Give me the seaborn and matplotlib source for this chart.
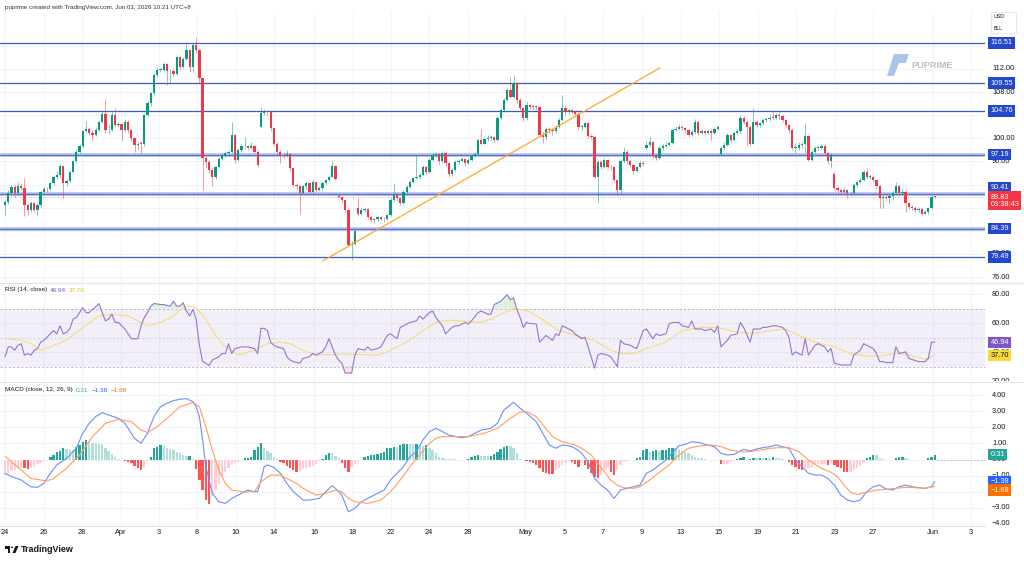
import numpy as np
import pandas as pd
import matplotlib
matplotlib.use("Agg")
import matplotlib.pyplot as plt
import seaborn as sns
from matplotlib.patches import Rectangle, Polygon, Circle
from matplotlib.lines import Line2D

# ---- candles (4h bars, index = bar number) ----
closes = [
    89.0, 90.5, 91.6, 90.5, 91.8, 91.4, 88.5, 87.6, 88.8, 87.6, 88.5, 90.8, 91.3, 91.2, 92.2, 93.3, 93.6, 95.2, 92.2, 92.6,
    94.2, 96.0, 97.7, 98.6, 101.2, 101.7, 101.0, 100.6, 101.5, 102.8, 104.3, 101.4, 101.5, 104.0, 102.3, 102.4, 101.5, 102.8, 101.4, 100.0,
    98.9, 99.1, 99.0, 104.0, 106.1, 107.8, 111.0, 111.8, 111.9, 112.9, 111.6, 111.7, 111.2, 114.1, 112.4, 113.8, 115.3, 112.4, 116.1, 115.3,
    110.4, 96.6, 95.9, 94.5, 93.4, 95.1, 96.5, 97.1, 97.4, 97.7, 100.6, 96.3, 98.0, 98.6, 98.6, 98.3, 98.6, 97.7, 95.4, 104.4,
    104.6, 104.5, 101.8, 99.1, 97.7, 97.1, 97.0, 97.3, 94.8, 92.0, 91.7, 90.5, 91.7, 92.2, 90.8, 92.5, 91.0, 91.4, 92.2, 92.8,
    93.4, 95.2, 93.0, 89.9, 89.3, 87.6, 81.5, 81.8, 84.0, 86.9, 87.6, 87.7, 86.4, 85.8, 86.0, 86.4, 86.1, 86.0, 86.7, 89.3,
    90.2, 89.6, 88.8, 90.8, 91.6, 92.5, 93.1, 93.3, 93.7, 95.1, 94.2, 96.2, 97.1, 97.3, 96.0, 97.4, 95.7, 93.8, 94.5, 95.9,
    96.1, 96.4, 95.7, 96.3, 97.0, 97.3, 99.7, 99.1, 99.9, 100.1, 100.2, 99.7, 103.5, 104.9, 106.6, 108.4, 107.2, 109.5, 106.6, 105.2,
    103.5, 105.8, 105.5, 105.4, 105.4, 100.6, 100.3, 101.6, 101.5, 101.2, 102.0, 103.2, 105.2, 104.6, 104.9, 104.6, 104.3, 102.0, 102.0, 102.6,
    100.4, 100.3, 93.4, 95.9, 95.1, 96.3, 95.1, 95.0, 92.8, 91.1, 96.0, 97.7, 96.0, 95.4, 94.3, 95.0, 95.7, 95.6, 98.8, 99.4,
    97.0, 96.6, 98.3, 98.6, 98.9, 99.2, 101.4, 101.7, 101.9, 101.8, 101.4, 100.6, 101.1, 102.9, 100.9, 101.2, 101.0, 101.3, 100.9, 101.7,
    101.9, 98.3, 98.9, 100.6, 99.8, 100.9, 101.2, 103.5, 102.9, 102.0, 99.1, 102.9, 102.3, 102.6, 103.2, 103.3, 103.6, 103.5, 104.0, 103.8,
    103.2, 102.3, 101.4, 98.3, 98.3, 98.9, 99.0, 100.4, 96.3, 97.7, 98.3, 98.3, 98.6, 97.4, 96.0, 97.1, 91.4, 91.1, 90.8, 91.1,
    90.5, 90.5, 91.9, 92.5, 92.8, 94.2, 93.4, 93.4, 92.8, 91.7, 89.6, 89.9, 89.6, 90.0, 90.5, 91.7, 90.5, 90.8, 88.8, 88.2,
    88.0, 87.6, 87.8, 87.0, 87.3, 87.9, 89.9, 89.83,
]
highs = [
    89.4, 91.0, 92.0, 92.0, 92.4, 92.2, 93.2, 88.8, 89.2, 89.0, 88.8, 91.0, 91.6, 91.6, 92.5, 93.6, 94.4, 95.5, 95.3, 93.0,
    94.6, 96.3, 98.0, 99.0, 101.5, 103.0, 102.0, 101.4, 101.9, 103.1, 104.9, 106.8, 102.3, 104.5, 105.2, 102.8, 102.6, 103.3, 103.1, 101.6,
    100.2, 99.5, 99.6, 104.3, 106.5, 108.0, 111.3, 112.3, 112.2, 113.2, 113.1, 112.0, 112.0, 114.4, 114.3, 114.1, 116.4, 115.4, 116.5, 117.6,
    115.5, 110.5, 97.0, 96.2, 94.8, 95.3, 96.8, 97.5, 97.8, 98.0, 102.8, 100.8, 98.4, 99.0, 100.3, 98.9, 99.3, 98.8, 97.9, 105.5,
    105.0, 104.9, 104.6, 102.0, 99.3, 98.0, 97.5, 97.9, 97.4, 95.0, 92.3, 92.0, 92.0, 92.7, 92.3, 92.9, 92.7, 91.7, 92.4, 93.0,
    93.7, 96.0, 95.4, 90.3, 90.1, 89.4, 87.8, 82.2, 84.3, 89.6, 87.9, 88.2, 87.9, 86.6, 86.3, 86.6, 86.6, 86.4, 86.9, 89.6,
    92.2, 90.5, 89.9, 91.0, 91.9, 92.8, 93.4, 97.1, 94.0, 95.4, 95.4, 96.6, 97.7, 97.7, 97.5, 97.8, 97.8, 95.9, 94.9, 96.3,
    96.4, 96.8, 96.6, 96.6, 97.3, 97.6, 100.1, 101.7, 100.3, 100.6, 100.6, 100.4, 103.8, 105.2, 106.9, 108.7, 110.7, 111.0, 109.8, 106.9,
    105.5, 106.3, 106.0, 105.8, 105.8, 105.6, 101.1, 102.0, 102.0, 101.8, 102.3, 103.5, 107.5, 105.6, 105.3, 105.2, 104.8, 104.5, 102.5, 102.9,
    102.8, 100.8, 100.4, 96.3, 96.2, 96.6, 96.5, 95.4, 95.2, 93.0, 96.4, 98.5, 97.9, 96.3, 95.6, 95.3, 96.0, 96.0, 99.6, 100.2,
    99.6, 97.3, 98.7, 99.0, 99.3, 99.6, 101.7, 102.1, 102.4, 102.3, 102.0, 101.6, 101.5, 103.3, 103.2, 101.6, 101.5, 101.7, 101.6, 102.0,
    102.3, 98.6, 99.3, 100.9, 100.8, 101.2, 101.6, 104.1, 103.9, 103.2, 102.3, 105.2, 103.2, 102.9, 103.5, 103.7, 104.0, 104.9, 104.4, 104.5,
    104.0, 103.4, 102.5, 101.7, 99.2, 99.3, 99.4, 102.6, 100.6, 98.0, 98.6, 98.7, 99.0, 98.8, 97.6, 97.4, 94.2, 91.8, 91.4, 91.5,
    91.3, 90.8, 92.2, 92.8, 93.2, 94.6, 94.8, 93.9, 93.5, 93.0, 91.9, 90.4, 90.3, 90.4, 90.9, 92.5, 91.9, 91.2, 91.0, 89.0,
    88.5, 88.3, 88.1, 88.0, 87.6, 88.2, 90.2, 90.1,
]
lows = [
    86.8, 88.7, 90.3, 89.8, 90.2, 91.0, 86.5, 86.8, 87.3, 87.2, 86.5, 88.2, 90.5, 90.8, 91.0, 92.0, 93.0, 93.4, 89.6, 91.8,
    92.4, 94.0, 95.8, 97.5, 98.4, 101.0, 100.5, 99.8, 100.4, 101.2, 102.6, 101.0, 100.8, 101.3, 102.0, 101.9, 99.6, 101.3, 101.0, 99.6,
    97.6, 98.2, 97.5, 98.7, 103.8, 105.6, 107.5, 110.7, 111.4, 111.5, 109.2, 109.5, 110.8, 111.0, 112.0, 112.2, 113.6, 111.4, 111.4, 114.8,
    109.6, 91.1, 94.8, 94.0, 91.8, 93.0, 94.8, 96.2, 96.8, 97.0, 97.5, 95.8, 96.0, 97.6, 98.2, 97.9, 98.1, 97.4, 95.0, 101.8,
    104.0, 104.0, 101.3, 98.8, 97.2, 95.7, 96.6, 96.7, 94.4, 91.6, 91.2, 87.0, 90.3, 91.3, 90.5, 90.6, 90.7, 90.9, 91.1, 92.0,
    92.6, 93.3, 92.8, 89.6, 89.0, 87.2, 81.2, 79.0, 81.5, 86.5, 86.7, 87.2, 86.1, 85.5, 85.4, 85.7, 85.9, 85.6, 85.9, 86.5,
    89.0, 89.2, 88.4, 88.6, 90.5, 91.4, 92.3, 92.9, 93.0, 93.5, 93.8, 94.0, 96.0, 96.8, 95.6, 95.8, 95.3, 93.3, 93.5, 94.3,
    95.6, 95.9, 95.2, 95.5, 96.1, 96.8, 97.2, 98.8, 99.0, 99.6, 99.8, 99.4, 99.5, 103.2, 104.6, 106.4, 106.9, 107.0, 106.2, 104.8,
    103.0, 103.2, 105.1, 105.0, 104.9, 100.2, 99.2, 99.7, 101.0, 100.6, 101.0, 101.8, 103.0, 104.0, 104.3, 104.2, 103.9, 101.6, 101.5, 101.8,
    100.0, 99.9, 93.0, 88.8, 94.7, 94.9, 94.8, 94.6, 92.4, 90.2, 90.6, 95.8, 95.6, 95.0, 93.9, 94.1, 94.8, 95.2, 98.2, 98.5,
    96.6, 96.2, 96.4, 98.0, 98.4, 98.7, 99.0, 101.2, 101.5, 101.4, 101.0, 100.2, 100.4, 100.8, 100.5, 100.7, 100.6, 100.8, 99.7, 100.7,
    101.5, 97.1, 98.0, 98.6, 99.4, 99.6, 100.6, 101.0, 102.5, 98.6, 98.7, 99.0, 101.9, 102.0, 102.3, 102.9, 103.0, 103.1, 103.3, 103.4,
    102.9, 101.9, 101.0, 97.9, 97.4, 98.0, 98.3, 97.4, 96.0, 96.1, 97.4, 97.9, 98.1, 97.1, 95.6, 94.8, 91.0, 90.7, 90.4, 90.5,
    89.6, 90.1, 90.2, 91.6, 92.2, 92.6, 93.0, 93.0, 92.4, 91.3, 87.9, 87.9, 89.2, 88.7, 89.3, 90.2, 90.1, 90.2, 87.3, 87.8,
    87.6, 87.3, 87.3, 86.8, 86.9, 87.0, 87.7, 89.6,
]
first_open = 88.4
gap_opens = {79: 102.0, 103: 90.0, 109: 87.9, 198: 98.3, 221: 97.3, 256: 93.9}

levels = [116.51, 109.55, 104.76, 97.19, 90.41, 84.39, 79.49]
halo_levels = [97.19, 90.41, 84.39]
last_price = 89.83
trend_x = [98.1, 202.2]
trend_y = [78.8, 112.2]

# ---- RSI (14) and its moving average ----
rsi_x = [0, 1, 2, 3, 4, 5, 6, 7, 8, 9, 10, 11, 12, 14, 15, 16, 17, 18, 19, 20, 21, 22, 23, 24, 25, 26, 27, 28, 29, 30,
         31, 32, 33, 34, 35, 36, 37, 38, 39, 40, 41, 42, 43, 44, 45, 46, 48, 49, 51, 52, 53, 54, 55, 56, 57, 58, 59, 60, 61, 62,
         63, 64, 66, 67, 68, 69, 70, 71, 73, 75, 77, 78, 79, 80, 81, 82, 83, 84, 86, 87, 88, 89, 91, 92, 94, 95, 96, 98, 99, 100,
         102, 103, 104, 105, 107, 108, 109, 111, 112, 113, 115, 116, 118, 119, 121, 122, 124, 125, 127, 128, 129, 131, 132, 133, 135, 136, 138, 139, 140, 142,
         143, 144, 146, 147, 149, 150, 151, 153, 154, 155, 156, 157, 158, 159, 160, 161, 162, 164, 165, 166, 167, 169, 170, 171, 172, 173, 175, 176, 178, 179,
         180, 182, 183, 184, 186, 187, 189, 190, 191, 193, 194, 195, 197, 198, 200, 201, 202, 204, 205, 206, 208, 209, 211, 212, 213, 215, 216, 218, 219, 220,
         221, 222, 223, 224, 226, 227, 228, 230, 231, 233, 234, 235, 237, 238, 240, 241, 242, 243, 244, 245, 246, 247, 248, 250, 251, 253, 254, 255, 256, 258,
         260, 261, 262, 264, 265, 266, 268, 269, 270, 271, 272, 274, 275, 276, 278, 279, 281, 282, 284, 285, 286, 287]
rsi_y = [36.8, 43.6, 43.6, 41.3, 44.7, 45.8, 37.9, 39.0, 37.9, 41.3, 42.4, 46.9, 48.1, 52.6, 54.9, 52.6, 58.2, 52.6, 53.7, 56.0, 62.8, 63.9, 67.3, 70.7, 67.3, 67.3, 69.5, 71.4, 73.6, 67.3,
         61.6, 62.8, 66.2, 60.5, 60.5, 58.2, 56.0, 52.6, 49.2, 49.2, 49.2, 58.2, 63.9, 67.3, 71.8, 73.6, 72.9, 72.9, 71.8, 75.2, 71.8, 71.8, 74.1, 68.4, 65.0, 69.5, 62.8, 44.7, 33.4, 32.3,
         30.7, 34.5, 36.8, 39.0, 39.0, 45.8, 39.0, 42.4, 43.6, 43.6, 42.4, 39.0, 56.4, 56.4, 54.9, 46.9, 44.7, 43.6, 42.4, 36.8, 34.5, 33.4, 32.3, 35.6, 36.8, 39.0, 37.9, 40.2, 43.6, 49.2,
         37.9, 34.5, 32.3, 25.5, 25.5, 37.9, 42.4, 41.3, 43.6, 41.3, 42.4, 43.6, 51.5, 52.6, 49.2, 57.1, 59.4, 60.5, 61.6, 65.0, 62.8, 67.3, 68.4, 63.9, 58.2, 52.6, 57.1, 58.2, 58.2, 60.5,
         59.4, 61.6, 67.3, 68.4, 66.2, 66.2, 72.9, 75.2, 77.5, 79.7, 76.3, 77.5, 69.5, 63.9, 57.1, 60.5, 59.8, 59.4, 46.9, 49.2, 51.5, 48.1, 52.6, 51.5, 58.2, 57.1, 54.9, 52.6, 49.2, 50.3,
         43.6, 28.9, 37.9, 39.0, 37.9, 36.8, 30.0, 48.1, 45.8, 44.7, 43.6, 42.4, 54.9, 56.0, 49.2, 52.6, 51.5, 52.6, 59.4, 60.5, 60.5, 58.2, 57.1, 61.6, 56.0, 56.0, 54.9, 56.0, 53.7, 58.2,
         43.6, 46.0, 48.1, 51.5, 52.6, 60.5, 57.1, 46.9, 56.0, 56.0, 57.1, 57.1, 58.2, 58.2, 57.1, 54.9, 50.0, 37.9, 40.2, 39.0, 37.9, 49.2, 37.9, 44.7, 45.8, 43.6, 40.2, 42.4, 32.3, 31.1,
         31.1, 31.1, 37.9, 41.3, 45.8, 44.7, 42.4, 39.0, 33.4, 33.4, 32.7, 32.7, 43.6, 39.0, 40.2, 35.6, 34.1, 33.4, 33.4, 35.6, 46.9, 46.94]
rsi_ma_x = [0, 5, 8, 11, 14, 19, 24, 29, 33, 38, 42, 44, 48, 52, 55, 57, 59, 62, 65, 68, 72, 77, 81, 85, 88, 92, 96, 104, 115, 118,
            124, 129, 133, 137, 143, 147, 150, 154, 157, 161, 165, 171, 176, 182, 187, 190, 194, 198, 204, 209, 215, 220, 226, 231, 237, 241, 245, 250, 256, 261,
            266, 270, 275, 278, 281, 284, 287]
rsi_ma_y = [49.7, 48.1, 45.8, 41.3, 43.6, 48.1, 57.1, 65.0, 66.2, 65.0, 60.5, 58.2, 60.5, 65.0, 70.7, 71.8, 70.7, 62.8, 51.5, 43.6, 37.9, 41.3, 45.8, 46.9, 45.8, 41.3, 37.9, 38.6, 37.9, 40.2,
            46.9, 54.9, 60.5, 62.1, 61.2, 60.5, 62.8, 67.3, 70.2, 68.9, 63.9, 54.9, 51.5, 48.1, 41.3, 39.0, 39.0, 42.4, 46.9, 54.9, 57.1, 57.1, 53.7, 53.0, 54.9, 56.0, 51.5, 46.9, 43.6, 39.0,
            37.2, 37.2, 39.0, 38.6, 36.8, 35.0, 37.7]

# ---- MACD (12, 26, 9) ----
macd_x = [0, 2, 5, 8, 10, 12, 14, 16, 19, 22, 24, 26, 28, 30, 32, 35, 37, 39, 40, 42, 44, 46, 48, 50, 52, 54, 56, 58, 59, 60,
          61, 62, 63, 64, 66, 68, 70, 72, 75, 77, 78, 79, 80, 81, 83, 85, 87, 89, 91, 92, 94, 97, 99, 101, 102, 104, 106, 108, 110, 113,
          117, 119, 121, 123, 125, 127, 129, 131, 133, 135, 137, 141, 143, 145, 147, 150, 152, 154, 157, 159, 161, 164, 166, 168, 170, 172, 174, 176, 178, 180,
          182, 184, 186, 188, 190, 192, 194, 196, 198, 200, 202, 204, 206, 208, 210, 212, 214, 216, 219, 221, 223, 225, 228, 230, 232, 234, 236, 238, 240, 242,
          244, 246, 248, 250, 252, 254, 256, 258, 260, 262, 264, 266, 268, 270, 272, 274, 276, 278, 280, 282, 284, 286, 287]
macd_y = [-0.86, -1.07, -1.28, -1.70, -1.74, -1.49, -0.86, -0.34, 0.07, 0.70, 1.64, 2.26, 2.68, 2.93, 2.78, 2.57, 2.26, 1.64, 1.32, 1.01, 1.64, 2.68, 3.30, 3.51, 3.68, 3.76, 3.80, 3.61, 3.30, 2.68,
          1.22, -0.45, -1.28, -2.11, -2.64, -2.74, -2.43, -2.22, -1.91, -2.01, -2.00, -1.28, -0.45, -0.34, -0.49, -0.86, -1.49, -2.01, -2.35, -2.53, -2.53, -2.43, -2.01, -1.64, -1.80, -2.22, -3.26, -3.05, -2.64, -2.32,
          -1.91, -1.28, -0.86, -0.45, 0.18, 0.49, 1.22, 1.74, 1.95, 1.74, 1.53, 1.36, 1.43, 1.64, 1.84, 1.95, 2.26, 3.09, 3.57, 3.20, 2.89, 2.36, 1.64, 0.91, 0.70, 0.91, 0.86, 0.70, 0.39, -0.14,
          -1.18, -1.60, -1.91, -2.43, -1.91, -1.80, -1.70, -1.60, -0.86, -0.66, -0.34, -0.03, 0.39, 0.86, 0.95, 1.11, 1.07, 0.95, 0.80, 0.39, 0.28, 0.32, 0.64, 0.53, 0.66, 0.74, 0.80, 0.91, 0.80, 0.70,
          -0.03, -0.45, -0.86, -0.97, -0.97, -1.18, -1.60, -2.22, -2.53, -2.64, -2.53, -2.01, -1.70, -1.60, -1.84, -1.91, -1.70, -1.60, -1.70, -1.76, -1.80, -1.70, -1.38]
signal_x = [0, 2, 5, 8, 11, 13, 15, 19, 23, 27, 31, 35, 39, 42, 44, 47, 50, 54, 58, 60, 62, 64, 66, 68, 70, 74, 77, 79, 82, 85,
            87, 90, 92, 96, 99, 102, 104, 106, 108, 112, 116, 119, 122, 125, 128, 131, 133, 135, 139, 143, 148, 152, 156, 159, 161, 164, 166, 169, 172, 176,
            178, 181, 183, 185, 187, 189, 191, 194, 196, 199, 202, 205, 208, 211, 214, 218, 221, 224, 227, 230, 233, 236, 239, 242, 245, 248, 252, 255, 257, 259,
            261, 263, 266, 269, 272, 275, 278, 281, 284, 287]
signal_y = [0.22, -0.14, -0.66, -1.18, -1.28, -1.34, -1.18, -0.55, 0.28, 1.43, 2.26, 2.51, 2.36, 1.84, 1.68, 2.05, 2.57, 3.30, 3.55, 3.30, 2.05, 0.59, -0.66, -1.49, -1.91, -2.03, -2.01, -1.39, -0.97, -0.97,
            -1.18, -1.50, -1.80, -2.22, -2.11, -1.91, -2.01, -2.43, -2.64, -2.74, -2.53, -2.01, -1.28, -0.45, 0.28, 1.01, 1.32, 1.43, 1.43, 1.43, 1.64, 1.95, 2.57, 2.95, 3.00, 2.68, 2.16, 1.43, 1.11, 0.91,
            0.70, 0.28, -0.24, -0.76, -1.28, -1.60, -1.77, -1.80, -1.70, -1.28, -0.80, -0.34, 0.28, 0.70, 0.84, 0.91, 0.80, 0.59, 0.49, 0.49, 0.59, 0.70, 0.74, 0.74, 0.49, -0.03, -0.55, -0.80, -1.07, -1.60,
            -2.05, -2.18, -2.05, -1.91, -1.86, -1.80, -1.74, -1.76, -1.80, -1.68]
macd_hist = [
    -0.95, -0.85, -0.70, -0.65, -0.55, -0.50, -0.55, -0.62, -0.50, -0.40, -0.30, -0.20, -0.12, -0.05, 0.14, 0.28, 0.49, 0.55, 0.70, 0.64,
    0.60, 0.60, 0.80, 0.90, 1.10, 1.22, 1.10, 1.00, 1.00, 0.98, 0.95, 0.70, 0.55, 0.34, 0.18, 0.05, -0.03, -0.07, -0.14, -0.24,
    -0.40, -0.55, -0.65, -0.50, -0.10, 0.18, 0.70, 0.80, 0.90, 0.84, 0.70, 0.64, 0.60, 0.49, 0.43, 0.28, 0.22, 0.25, 0.05, -0.60,
    -1.28, -1.90, -2.50, -2.78, -2.30, -1.90, -1.50, -1.07, -0.76, -0.55, -0.34, -0.24, -0.14, -0.03, 0.07, 0.11, 0.18, 0.60, 0.80, 1.00,
    0.70, 0.55, 0.39, 0.14, 0.02, -0.13, -0.24, -0.40, -0.55, -0.65, -0.76, -0.72, -0.62, -0.55, -0.48, -0.38, -0.28, -0.12, 0.03, 0.28,
    0.43, 0.43, 0.24, 0.07, -0.24, -0.55, -0.80, -0.45, -0.30, -0.14, -0.03, 0.18, 0.22, 0.26, 0.28, 0.32, 0.39, 0.49, 0.70, 0.74,
    0.80, 0.80, 0.90, 0.95, 0.99, 0.99, 0.95, 0.99, 0.91, 0.86, 0.90, 0.74, 0.60, 0.39, 0.18, 0.07, 0.05, 0.03, 0.03, 0.02,
    -0.02, -0.04, -0.02, 0.05, 0.16, 0.22, 0.26, 0.24, 0.22, 0.20, 0.24, 0.32, 0.49, 0.66, 0.80, 0.84, 0.84, 0.70, 0.39, 0.03,
    -0.02, -0.09, -0.18, -0.24, -0.34, -0.55, -0.76, -0.86, -0.88, -0.92, -0.66, -0.51, -0.34, -0.20, -0.09, -0.14, -0.30, -0.45, -0.24, -0.34,
    -0.59, -0.86, -1.07, -1.18, -0.97, -0.66, -0.55, -0.76, -0.97, -0.66, -0.34, -0.18, -0.09, -0.05, -0.01, 0.07, 0.18, 0.60, 0.66, 0.49,
    0.55, 0.57, 0.55, 0.57, 0.60, 0.70, 0.74, 0.74, 0.60, 0.53, 0.49, 0.39, 0.28, 0.18, 0.11, 0.07, 0.03, -0.01, -0.03, -0.05,
    -0.05, -0.30, -0.26, -0.26, -0.18, -0.09, 0.01, 0.11, 0.16, -0.05, 0.05, 0.07, 0.07, 0.09, 0.07, 0.11, 0.11, 0.14, 0.11, 0.07,
    0.02, -0.01, -0.18, -0.34, -0.45, -0.59, -0.66, -0.55, -0.51, -0.45, -0.34, -0.30, -0.26, -0.26, -0.34, -0.24, -0.34, -0.45, -0.55, -0.76,
    -0.80, -0.76, -0.66, -0.55, -0.41, -0.24, 0.07, 0.18, 0.28, 0.28, 0.11, 0.03, -0.01, -0.05, -0.03, 0.07, 0.14, 0.18, 0.07, 0.03,
    -0.01, -0.05, -0.03, -0.05, -0.01, 0.07, 0.18, 0.31,
]

date_labels = ["24", "26", "28", "Apr", "3", "8", "10", "14", "16", "18", "22", "24", "28", "May", "5", "7", "9",
               "13", "15", "19", "21", "23", "27", "Jun", "3"]
date_pos = [0, 12.0, 23.8, 35.8, 47.5, 59.3, 71.3, 83.0, 95.4, 107.4, 119.1, 130.8, 142.9, 160.5, 172.8, 184.5, 196.6,
            208.6, 220.3, 232.4, 244.1, 256.1, 267.9, 286.4, 298.1]
price_grid = [76, 80, 84, 88, 92, 96, 100, 104, 108, 112, 116]
price_ticks = [76, 80, 96, 100, 104, 108, 112]
rsi_ticks = [20, 40, 60, 80]
macd_ticks = [-4, -3, -2, -1, 0, 1, 2, 3, 4]

# ---- style ----
UP, DN = "#089981", "#F23645"
GRID = "#F0F3FA"
TXT = "#131722"
W, H = 1024, 562

sns.set_theme(style="white")
plt.rcParams["font.family"] = ["Liberation Sans", "DejaVu Sans"]

fig = plt.figure(figsize=(W / 100, H / 100), dpi=100)
fig.patch.set_facecolor("white")


def rect(x0, y0, x1, y1):
    return [x0 / W, 1 - y1 / H, (x1 - x0) / W, (y1 - y0) / H]


ax_p = fig.add_axes(rect(0, 12, 985, 282))
ax_r = fig.add_axes(rect(0, 283, 985, 381), sharex=ax_p)
ax_m = fig.add_axes(rect(0, 382, 985, 525), sharex=ax_p)
sc_p = fig.add_axes(rect(985, 12, 1024, 282))
sc_r = fig.add_axes(rect(985, 283, 1024, 381))
sc_m = fig.add_axes(rect(985, 382, 1024, 525))

ylims = {ax_p: (75.15, 121.86), ax_r: (20.2, 87.8), ax_m: (-4.09, 4.84)}
for ax, sc in [(ax_p, sc_p), (ax_r, sc_r), (ax_m, sc_m)]:
    ax.set_ylim(*ylims[ax])
    sc.set_ylim(*ylims[ax])
    sc.set_xlim(0, 1)
    sc.axis("off")
    for s in ax.spines.values():
        s.set_visible(False)
    ax.set_facecolor("white")
    ax.grid(True, color=GRID, lw=0.7)
    ax.set_axisbelow(True)
    ax.tick_params(length=0, labelleft=False, labelbottom=False)

ax_p.set_yticks(price_grid)
ax_r.set_yticks(rsi_ticks)
ax_m.set_yticks(macd_ticks)
ax_m.set_xticks(date_pos)
ax_m.set_xticklabels(date_labels)
ax_m.tick_params(labelbottom=True, labelsize=5.3, labelcolor=TXT, pad=3)
ax_p.set_xlim(-1.54, 302.5)

# ---- price pane ----
idx = np.arange(len(closes))
opens = [first_open] + closes[:-1]
for k, v in gap_opens.items():
    opens[k] = v
o = np.array(opens)
c = np.array(closes)
hi = np.maximum.reduce([np.array(highs), o, c])
lo = np.minimum.reduce([np.array(lows), o, c])
col = np.where(c >= o, UP, DN)

for v in levels:
    if v in halo_levels:
        ax_p.axhline(v, color="#AFBEEE", lw=2.6, zorder=1)
        ax_p.axhline(v, color="#5570CC", lw=0.8, zorder=1.1)
    else:
        ax_p.axhline(v, color="#3D5AC4", lw=0.9, zorder=1)
ax_p.axhline(last_price, color=DN, lw=0.6, ls=(0, (1, 2)), alpha=0.6, zorder=1)

ax_p.vlines(idx, lo, hi, colors=col, lw=0.6, alpha=0.6, zorder=2)
ax_p.bar(idx, np.maximum(np.abs(c - o), 0.12), bottom=np.minimum(o, c), width=0.7, color=col, lw=0, zorder=3)
ax_p.plot(trend_x, trend_y, color="#FFA726", lw=0.9, zorder=4)

# ---- RSI pane ----
rx = np.array(rsi_x, dtype=float)
ry = np.array(rsi_y)
ax_r.axhspan(30, 70, color="#7E57C2", alpha=0.09, lw=0)
for v, a in [(70, 0.9), (50, 0.5), (30, 0.9)]:
    ax_r.axhline(v, color="#A8A3BD", lw=0.6, ls=(0, (2.5, 2.5)), alpha=a)
ax_r.fill_between(rx, 70, ry, where=ry > 70, interpolate=True, color="#4CAF50", alpha=0.18, lw=0)
ax_r.fill_between(rx, 30, ry, where=ry < 30, interpolate=True, color="#F23645", alpha=0.12, lw=0)
sns.lineplot(x=rsi_ma_x, y=rsi_ma_y, ax=ax_r, color="#F9DA78", lw=0.8, estimator=None, sort=False, legend=False)
sns.lineplot(x=rsi_x, y=rsi_y, ax=ax_r, color="#9575CD", lw=0.8, estimator=None, sort=False, legend=False)

# ---- MACD pane ----
hist = np.array(macd_hist)
prev = np.r_[hist[0], hist[:-1]]
hcol = np.where(hist >= 0, np.where(hist > prev, "#26A69A", "#B2DFDB"),
                np.where(hist < prev, "#FF5252", "#FFCDD2"))
ax_m.bar(idx, hist, width=0.72, color=hcol, lw=0, zorder=2)
ax_m.hlines(0, idx[-1] + 0.6, 302.5, color="#B2B5BE", lw=0.6, ls=(0, (2, 2)))
sns.lineplot(x=macd_x, y=macd_y, ax=ax_m, color="#6C8EFA", lw=0.8, estimator=None, sort=False, legend=False, zorder=3)
sns.lineplot(x=signal_x, y=signal_y, ax=ax_m, color="#FF9E5A", lw=0.8, estimator=None, sort=False, legend=False, zorder=3)
for ax in (ax_p, ax_r, ax_m):
    ax.set_xlabel("")
    ax.set_ylabel("")
    ax.tick_params(labelleft=False)
ax_m.tick_params(labelbottom=True)
ax_p.tick_params(labelbottom=False)
ax_r.tick_params(labelbottom=False)

# ---- right scales ----
FS = 5.3


def scale_ticks(sc, ticks, fmt):
    for t in ticks:
        sc.text(0.18, t, fmt(t), fontsize=FS, color=TXT, va="center", ha="left", clip_on=True)


def scale_label(sc, value, text, fc, tc="white", dy=0.0, ls=1.0):
    sc.annotate(text, xy=(0.14, value), xytext=(0, dy), textcoords="offset points", fontsize=FS,
                color=tc, va="center", ha="left", linespacing=ls, annotation_clip=False,
                bbox=dict(boxstyle="square,pad=0.3", fc=fc, ec="none"), zorder=5)


scale_ticks(sc_p, price_ticks, lambda t: f"{t:.2f}")
scale_ticks(sc_r, rsi_ticks, lambda t: f"{t:.2f}")
scale_ticks(sc_m, macd_ticks, lambda t: f"{t:.2f}".replace("-", "\u2212"))

for v in levels:
    scale_label(sc_p, v, f"{v:.2f}", "#2448CC", dy=4.3 if v == 90.41 else 0.0)
scale_label(sc_p, last_price, f"{last_price:.2f}\n03:38:43", DN, dy=-2.6, ls=1.05)
scale_label(sc_r, rsi_y[-1], f"{rsi_y[-1]:.2f}", "#7E57C2")
scale_label(sc_r, rsi_ma_y[-1], f"{rsi_ma_y[-1]:.2f}", "#FDD835", tc=TXT)
scale_label(sc_m, macd_hist[-1], f"{macd_hist[-1]:.2f}", "#26A69A")
scale_label(sc_m, macd_y[-1], f"{macd_y[-1]:.2f}".replace("-", "\u2212"), "#2962FF")
scale_label(sc_m, signal_y[-1], f"{signal_y[-1]:.2f}".replace("-", "\u2212"), "#FF6D00", dy=-2.6)

# ---- separators ----
for yy in (282.5, 381.8):
    fig.add_artist(Line2D([0, 1], [1 - yy / H, 1 - yy / H], color="#E0E3EB", lw=0.8))
fig.add_artist(Line2D([0, 985 / W], [1 - 525.5 / H, 1 - 525.5 / H], color="#E0E3EB", lw=0.8))

# ---- header / legends ----
renderer = fig.canvas.get_renderer()


def text_row(x_px, y_px, parts, size, gap=3.0):
    x = x_px
    for s, colr in parts:
        t = fig.text(x / W, 1 - y_px / H, s, color=colr, fontsize=size, va="center", ha="left")
        x += t.get_window_extent(renderer=renderer).width + gap


text_row(5, 7, [("puprime created with TradingView.com, Jun 01, 2026 10:21 UTC+8", "#333333")], 4.5)
text_row(5, 290, [("RSI (14, close)", TXT), (f"{rsi_y[-1]:.2f}", "#7E57C2"), (f"{rsi_ma_y[-1]:.2f}", "#E8C020")], 4.6)
text_row(5, 390, [("MACD (close, 12, 26, 9)", TXT), (f"{macd_hist[-1]:.2f}", "#26A69A"),
                  (f"{macd_y[-1]:.2f}".replace("-", "\u2212"), "#2962FF"),
                  (f"{signal_y[-1]:.2f}".replace("-", "\u2212"), "#FF6D00")], 4.6)

# currency box
fig.add_artist(Rectangle((991 / W, 1 - 33 / H), 25 / W, 21 / H, transform=fig.transFigure,
                         fc="white", ec="#E0E3EB", lw=0.6))
fig.text(994 / W, 1 - 17 / H, "USD", fontsize=3.8, color=TXT, va="center")
fig.text(994 / W, 1 - 28 / H, "BLL", fontsize=3.8, color=TXT, va="center")

# PUPRIME watermark
fig.add_artist(Polygon([(887 / W, 1 - 76 / H), (894 / W, 1 - 54 / H), (909 / W, 1 - 54 / H), (906 / W, 1 - 63 / H),
                        (899 / W, 1 - 63 / H), (894 / W, 1 - 76 / H)], closed=True, transform=fig.transFigure,
                       fc="#AAC4EE", ec="none"))
fig.text(911 / W, 1 - 66 / H, "PUPRIME", fontsize=6.6, weight="bold", color="#BDBDBD", va="center")

# TradingView logo
fig.add_artist(Rectangle((5 / W, 1 - 548.5 / H), 5 / W, 2.5 / H, transform=fig.transFigure, fc=TXT, ec="none"))
fig.add_artist(Rectangle((7.5 / W, 1 - 553 / H), 2.5 / W, 7 / H, transform=fig.transFigure, fc=TXT, ec="none"))
fig.add_artist(Circle((12 / W, 1 - 547.3 / H), 1.2 / W, transform=fig.transFigure, fc=TXT, ec="none"))
fig.add_artist(Polygon([(12.5 / W, 1 - 553 / H), (15.5 / W, 1 - 546 / H), (18.5 / W, 1 - 546 / H), (15.5 / W, 1 - 553 / H)],
                       closed=True, transform=fig.transFigure, fc=TXT, ec="none"))
fig.text(21 / W, 1 - 549.5 / H, "TradingView", fontsize=6.5, weight="bold", color=TXT, va="center")

fig.savefig("out.png", dpi=100, facecolor="white")
